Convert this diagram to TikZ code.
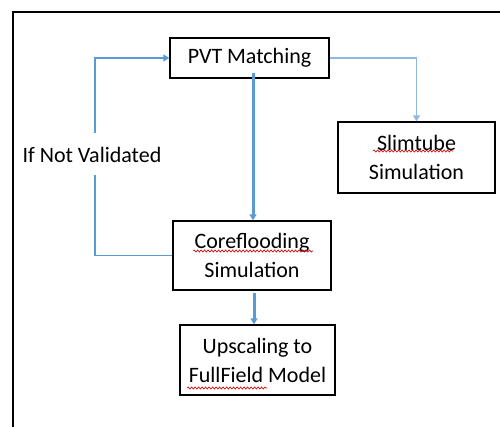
\documentclass[tikz,border=0pt]{standalone}
\usepackage{fontspec}
\setmainfont{Carlito}
\usetikzlibrary{arrows.meta,decorations.pathmorphing}
\definecolor{flowblue}{HTML}{5B9BD5}
\definecolor{flowlight}{HTML}{8EB9E3}
\begin{document}
\begin{tikzpicture}[x=1pt,y=-1pt,
  box/.style={draw=black,line width=1.3pt,fill=white,align=center,
    font=\fontsize{22}{29}\selectfont,inner sep=0pt},
  link/.style={draw=flowblue,line width=1.5pt},
  lightlink/.style={draw=flowlight,line width=1.5pt},
  mainlink/.style={draw=flowblue,line width=3pt},
  tip/.style={-{Triangle[length=6pt,width=7pt]}},
  spell/.style={draw=red!85!black,line width=0.6pt,
    decorate,decoration={snake,amplitude=1.1pt,segment length=3.5pt}}]
\useasboundingbox (0,0) rectangle (500,427);

% page frame
\draw[line width=1.4pt] (13,427) -- (13,12) -- (500,12);

% process boxes
\node[box,minimum width=159pt,minimum height=40pt] (pvt) at (249.5,58) {PVT Matching};
\node[box,minimum width=157pt,minimum height=71pt] (slim) at (416.5,157.5) {Slimtube\\Simulation};
\node[box,minimum width=158pt,minimum height=69pt] (core) at (252,255.5) {Coreflooding\\Simulation};
\node[box,minimum width=155pt,minimum height=70pt] (up) at (257.5,360) {Upscaling to\\FullField Model};

% feedback label
\node[font=\fontsize{22}{24}\selectfont,inner sep=0pt] (lbl) at (92,155) {If Not Validated};

% spell-check marks
\draw[spell] (193,251) -- (313,251);
\draw[spell] (373,151) -- (453,151);
\draw[spell] (187,388) -- (267,388);

% connectors
\coordinate (loopLow) at (95,175);
\coordinate (loopHigh) at (95,133);
\draw[link] (core.west) -| (loopLow);
\draw[link,tip] (loopHigh) |- (pvt.west);

\draw[lightlink,tip] (pvt.east) -| (slim.north);

\coordinate (midTop) at (253,73);
\draw[mainlink,tip] (midTop) -- (midTop |- core.north);

\coordinate (lowTop) at (254,293);
\draw[mainlink,tip] (lowTop) -- (lowTop |- up.north);
\end{tikzpicture}
\end{document}
